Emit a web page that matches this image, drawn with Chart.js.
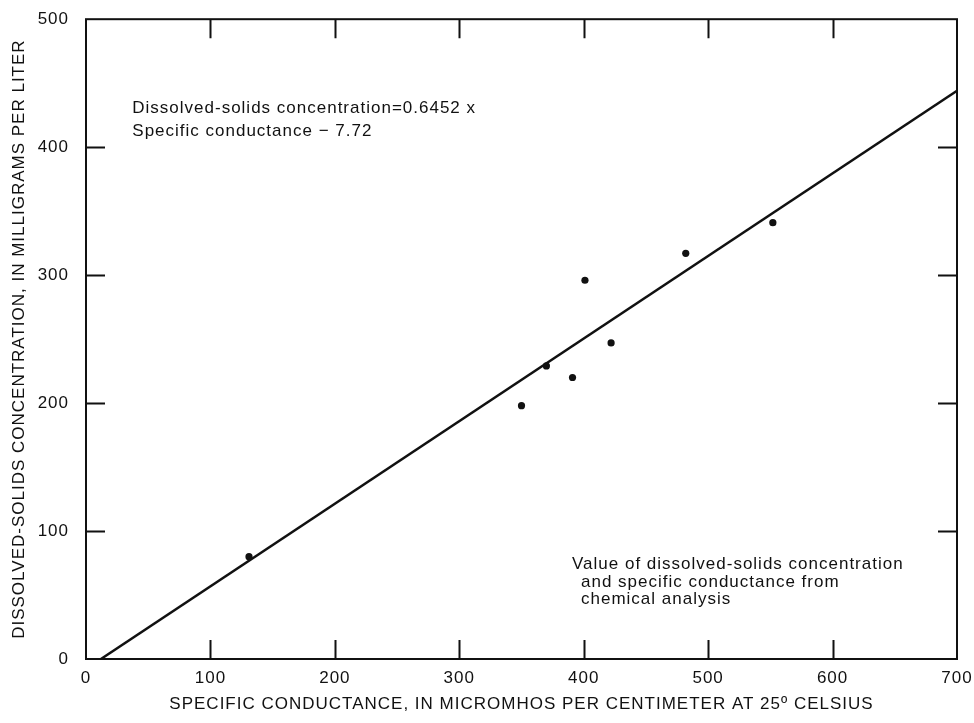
<!DOCTYPE html>
<html>
<head>
<meta charset="utf-8">
<script src="https://cdn.jsdelivr.net/npm/chart.js@4"></script>
<style>
  body { margin: 0; background: #fff; }
  canvas { display: block; }
</style>
</head>
<body>
<canvas id="chart" width="974" height="723"></canvas>
<script>
// specific conductance vs dissolved solids, chemical analyses
const conductance = [131, 350, 370, 391, 401, 422, 482, 552];
const dissolvedSolids = [80, 198, 229, 220, 296, 247, 317, 341];

// regression line ends
const fitX = [12, 700];
const fitY = [0, 444];

const xTicks = [0, 100, 200, 300, 400, 500, 600, 700];
const yTicks = [0, 100, 200, 300, 400, 500];

const xTitle = 'SPECIFIC CONDUCTANCE, IN MICROMHOS PER CENTIMETER AT 25º CELSIUS';
const yTitle = 'DISSOLVED-SOLIDS CONCENTRATION, IN MILLIGRAMS PER LITER';

const noteLines = [
    'Dissolved-solids concentration=0.6452 x',
    'Specific conductance − 7.72',
    'Value of dissolved-solids concentration',
    'and specific conductance from',
    'chemical analysis'
];
const noteX = [37.2, 37.2, 390.6, 397.8, 397.8];
const noteY = [426.8, 409.1, 70.2, 56.5, 42.9];

const ink = '#111';
const fontFamily = '"Liberation Sans", Arial, Helvetica, sans-serif';

const spacing = (chart) => {
    chart.ctx.letterSpacing = '1px';
};

// border + inward ticks on all four sides, and the text notes
const framePlugin = {
    id: 'frame',
    beforeUpdate: spacing,
    beforeDraw: spacing,
    afterDatasetsDraw(chart) {
        const {ctx, chartArea: a, scales: {x, y}} = chart;
        const tick = 19;
        ctx.save();
        ctx.strokeStyle = ink;
        ctx.lineWidth = 2;
        ctx.strokeRect(a.left, a.top, a.right - a.left, a.bottom - a.top);

        ctx.beginPath();
        xTicks.slice(1, -1).forEach(v => {
            const px = Math.round(x.getPixelForValue(v)) + 0.5;
            ctx.moveTo(px, a.bottom);
            ctx.lineTo(px, a.bottom - tick);
            ctx.moveTo(px, a.top);
            ctx.lineTo(px, a.top + tick);
        });
        yTicks.slice(1, -1).forEach(v => {
            const py = Math.round(y.getPixelForValue(v)) + 0.5;
            ctx.moveTo(a.left, py);
            ctx.lineTo(a.left + tick, py);
            ctx.moveTo(a.right, py);
            ctx.lineTo(a.right - tick, py);
        });
        ctx.stroke();

        ctx.fillStyle = ink;
        ctx.font = '17px ' + fontFamily;
        ctx.letterSpacing = '1px';
        ctx.textAlign = 'left';
        ctx.textBaseline = 'alphabetic';
        noteLines.forEach((t, i) => {
            ctx.fillText(t, x.getPixelForValue(noteX[i]), y.getPixelForValue(noteY[i]));
        });
        ctx.restore();
    }
};

const ctx = document.getElementById('chart').getContext('2d');

new Chart(ctx, {
    data: {
        datasets: [
            {
                type: 'scatter',
                label: 'Chemical analysis',
                data: conductance.map((c, i) => ({x: c, y: dissolvedSolids[i]})),
                pointRadius: 3.6,
                pointBackgroundColor: ink,
                pointBorderWidth: 0
            },
            {
                type: 'line',
                label: 'Regression',
                data: fitX.map((c, i) => ({x: c, y: fitY[i]})),
                borderColor: ink,
                borderWidth: 2.5,
                pointRadius: 0,
                fill: false
            }
        ]
    },
    options: {
        responsive: false,
        animation: false,
        layout: {
            padding: {top: 18, right: 17, left: 0, bottom: 0}
        },
        plugins: {
            legend: {display: false},
            tooltip: {enabled: false}
        },
        scales: {
            x: {
                type: 'linear',
                min: 0,
                max: 700,
                afterBuildTicks: (s) => { s.ticks = xTicks.map(v => ({value: v})); },
                afterFit: (s) => { s.height = 64; },
                grid: {display: false},
                border: {display: false},
                ticks: {
                    color: ink,
                    font: {size: 17, family: fontFamily},
                    padding: 1,
                    maxRotation: 0
                },
                title: {
                    display: true,
                    text: xTitle,
                    color: ink,
                    font: {size: 17, family: fontFamily},
                    padding: {top: 0, bottom: 8}
                }
            },
            y: {
                type: 'linear',
                min: 0,
                max: 500,
                afterBuildTicks: (s) => { s.ticks = yTicks.map(v => ({value: v})); },
                afterFit: (s) => { s.width = 86; },
                grid: {display: false},
                border: {display: false},
                ticks: {
                    color: ink,
                    font: {size: 17, family: fontFamily},
                    padding: 9
                },
                title: {
                    display: true,
                    text: yTitle,
                    color: ink,
                    font: {size: 17, family: fontFamily},
                    padding: {top: 9, bottom: 0}
                }
            }
        }
    },
    plugins: [framePlugin]
});
</script>
</body>
</html>
